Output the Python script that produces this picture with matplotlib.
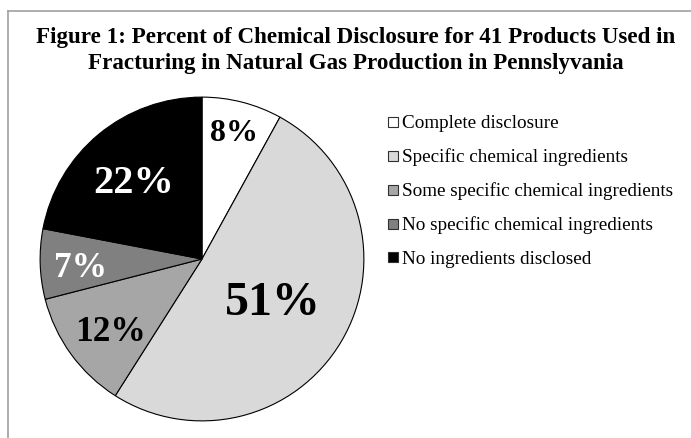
import matplotlib
matplotlib.use("Agg")
import matplotlib.pyplot as plt
from matplotlib.lines import Line2D

categories = ["Complete disclosure", "Specific chemical ingredients",
              "Some specific chemical ingredients", "No specific chemical ingredients",
              "No ingredients disclosed"]
percents = [8, 51, 12, 7, 22]
colors = ["#ffffff", "#d9d9d9", "#a6a6a6", "#808080", "#000000"]
label_colors = ["black", "black", "black", "white", "white"]
title_lines = ["Figure 1: Percent of Chemical Disclosure for 41 Products Used in",
               "Fracturing in Natural Gas Production in Pennslyvania"]

plt.rcParams['font.family'] = ['Liberation Serif', 'DejaVu Serif']

W, H = 691, 438
fig = plt.figure(figsize=(W / 100, H / 100), dpi=100)

# border
fig.add_artist(Line2D([8 / W, 8 / W], [0, 1 - 11 / H], color="#a0a0a0", lw=1.2))
fig.add_artist(Line2D([8 / W, 1], [1 - 11 / H, 1 - 11 / H], color="#a0a0a0", lw=1.2))

for i, line in enumerate(title_lines):
    fig.text(356 / W, 1 - (43 + 26 * i) / H, line, ha="center", va="baseline",
             fontsize=16.6, fontweight="bold")

cx, cy, r = 202, 259, 163.5
ax = fig.add_axes([(cx - r) / W, 1 - (cy + r) / H, 2 * r / W, 2 * r / H])
wedges, texts, autotexts = ax.pie(percents, colors=colors, startangle=90, counterclock=False,
                                  autopct=lambda p: f"{p:.0f}%",
                                  wedgeprops=dict(edgecolor="black", linewidth=0.8))
ax.set_xlim(-1.01, 1.01)
ax.set_ylim(-1.01, 1.01)
ax.set_aspect("equal")
ax.axis("off")

label_pos = [(0.196, 0.728), (0.440, -0.343), (-0.563, -0.508), (-0.752, -0.110), (-0.422, 0.410)]
label_sizes = [23, 34.5, 25.5, 25.5, 29]
for t, pos, sz, c in zip(autotexts, label_pos, label_sizes, label_colors):
    t.set_position(pos)
    t.set_ha("center")
    t.set_va("baseline")
    t.set_fontsize(sz)
    t.set_fontweight("bold")
    t.set_color(c)

handles = [Line2D([], [], marker="s", linestyle="none", markersize=7.2,
                  markerfacecolor=c, markeredgecolor="#303030", markeredgewidth=0.8)
           for c in colors]
fig.legend(handles, categories, loc="upper left", bbox_to_anchor=(387 / W, 1 - 115 / H),
           frameon=False, fontsize=13.8, handlelength=0.6, handletextpad=0.17,
           labelspacing=0.84, borderpad=0, borderaxespad=0)

fig.savefig("out.png", dpi=100)
